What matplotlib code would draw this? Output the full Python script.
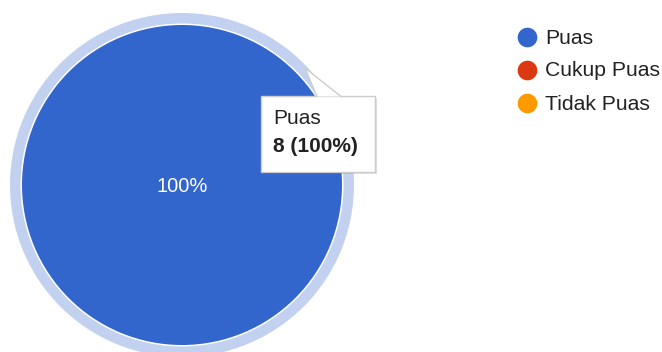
import matplotlib
matplotlib.use("Agg")
import matplotlib.pyplot as plt
from matplotlib.patches import Rectangle, Polygon

# data
labels = ['Puas', 'Cukup Puas', 'Tidak Puas']
values = [8, 0, 0]
colors = ['#3366cc', '#dc3912', '#ff9900']

total = sum(values)
plt.rcParams['font.family'] = ['Liberation Sans', 'DejaVu Sans']
txt_col = '#222222'

fig = plt.figure(figsize=(6.62, 3.52), dpi=100)
ax = fig.add_axes([0, 0, 1, 1])

cx, cy = 182, 185
# lingkaran sorot (hover) di sekitar irisan
ax.pie(values, radius=172, center=(cx, cy), colors=['#c2d1f0'] * 3,
       startangle=90, counterclock=False,
       wedgeprops=dict(width=10.5, linewidth=0))
ax.pie(values, radius=160, center=(cx, cy), colors=colors,
       startangle=90, counterclock=False, wedgeprops=dict(linewidth=0))

pct = 100 * values[0] / total
ax.text(cx, cy + 2, f'{pct:.0f}%', color='white', fontsize=14.5,
        ha='center', va='center')

# tooltip
bx0, by0, bx1, by1 = 261, 96, 375, 172
ax.add_patch(Rectangle((bx0 + 1.5, by0 + 1.5), bx1 - bx0, by1 - by0,
                       facecolor='#000000', alpha=0.12, linewidth=0, zorder=5))
ax.add_patch(Rectangle((bx0, by0), bx1 - bx0, by1 - by0, facecolor='white',
                       edgecolor='#cccccc', linewidth=1, zorder=6))
tip = [(317, by0 + 0.5), (305, 68), (341, by0 + 0.5)]
ax.add_patch(Polygon(tip, closed=True, facecolor='white', linewidth=0, zorder=7))
ax.plot([tip[0][0], tip[1][0], tip[2][0]], [tip[0][1], tip[1][1], tip[2][1]],
        color='#cccccc', linewidth=1, zorder=8)
ax.text(273, 119, labels[0], fontsize=15, color=txt_col, va='center', zorder=9)
ax.text(273, 147, f'{values[0]} ({pct:.0f}%)', fontsize=15, fontweight='bold',
        color=txt_col, va='center', zorder=9)

# legenda
for i, (lab, col) in enumerate(zip(labels, colors)):
    y = 37 + 33 * i
    ax.scatter([527], [y], s=200, color=col, linewidth=0, zorder=5)
    ax.text(545, y + 1, lab, fontsize=15.2, color=txt_col, va='center')

ax.set_xlim(0, 662)
ax.set_ylim(352, 0)
ax.set_aspect('equal')
ax.axis('off')

fig.savefig('out.png', dpi=100)
